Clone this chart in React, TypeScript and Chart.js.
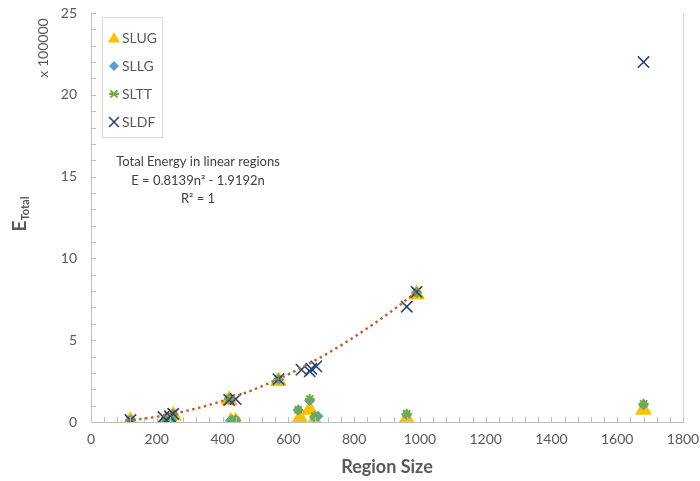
import React, { useEffect, useRef } from "react";
import { Chart, registerables } from "chart.js";

Chart.register(...registerables);

// Values in units of 100000
const SLUG: [number, number][] = [
  [120, 0.08], [225, 0.02], [245, 0.02], [250, 0.4], [420, 1.35], [425, 0.02], [440, 0.02],
  [570, 2.5], [635, 0.25], [665, 0.75], [680, 0.1], [960, 0.2], [990, 7.8], [1680, 0.75],
];
const SLLG: [number, number][] = [
  [120, 0.12], [225, 0.1], [245, 0.12], [250, 0.45], [420, 1.42], [425, 0.1], [440, 0.12],
  [570, 2.6], [630, 0.73], [665, 1.3], [680, 0.3], [690, 0.35], [960, 0.45], [990, 7.9], [1680, 1.05],
];
const SLTT: [number, number][] = [
  [120, 0.12], [225, 0.1], [240, 0.15], [250, 0.5], [420, 1.42], [430, 0.12], [440, 0.1],
  [570, 2.62], [630, 0.75], [665, 1.4], [680, 0.35], [960, 0.5], [990, 7.95], [1680, 1.12],
];
const SLDF: [number, number][] = [
  [120, 0.12], [220, 0.3], [240, 0.35], [250, 0.5], [420, 1.35], [440, 1.4], [570, 2.62],
  [640, 3.2], [665, 3.1], [670, 3.25], [685, 3.4], [960, 7.05], [990, 7.95], [1680, 22.0],
];

// Trendline from the equation shown in the chart: E = a n^2 + b n (in raw units)
const TREND_A = 0.8139;
const TREND_B = -1.9192;
const TREND_FROM = 110;
const TREND_TO = 1000;
const SCALE = 100000;

const X_TICKS = [0, 200, 400, 600, 800, 1000, 1200, 1400, 1600, 1800];
const Y_TICKS = [0, 5, 10, 15, 20, 25];

const ANNOT_LINES = ["Total Energy in linear regions", "E = 0.8139n\u00b2 - 1.9192n", "R\u00b2 = 1"];

const FONT = "Lato, 'Open Sans', sans-serif";
const GRAY = "#595959";

const toPts = (a: [number, number][]) => a.map(([x, y]) => ({ x, y }));

export default function App() {
  const ref = useRef<HTMLCanvasElement | null>(null);

  useEffect(() => {
    document.body.style.margin = "0";
    const trend: { x: number; y: number }[] = [];
    for (let n = TREND_FROM; n <= TREND_TO; n += 10) {
      trend.push({ x: n, y: (TREND_A * n * n + TREND_B * n) / SCALE });
    }

    const series = [
      { label: "SLUG", data: SLUG, style: "triangle", color: "#FFC000", radius: 9, bw: 1, order: 4, lr: 7 },
      { label: "SLLG", data: SLLG, style: "rectRot", color: "#5B9BD5", radius: 5, bw: 1, order: 3, lr: 5 },
      { label: "SLTT", data: SLTT, style: "star", color: "#70AD47", radius: 5, bw: 2, order: 2, lr: 5 },
      { label: "SLDF", data: SLDF, style: "crossRot", color: "#264478", radius: 8, bw: 1.6, order: 1, lr: 7 },
    ];

    function drawPoint(ctx: CanvasRenderingContext2D, style: string, r: number, x: number, y: number) {
      ctx.beginPath();
      if (style === "triangle") {
        ctx.moveTo(x, y - r);
        ctx.lineTo(x - r * 0.866, y + r * 0.5);
        ctx.lineTo(x + r * 0.866, y + r * 0.5);
        ctx.closePath();
        ctx.fill();
      } else if (style === "rectRot") {
        ctx.moveTo(x, y - r);
        ctx.lineTo(x + r, y);
        ctx.lineTo(x, y + r);
        ctx.lineTo(x - r, y);
        ctx.closePath();
        ctx.fill();
      } else if (style === "star") {
        const d = r * 0.707;
        ctx.moveTo(x - d, y - d); ctx.lineTo(x + d, y + d);
        ctx.moveTo(x + d, y - d); ctx.lineTo(x - d, y + d);
        ctx.moveTo(x - r, y); ctx.lineTo(x + r, y);
        ctx.stroke();
      } else {
        const d = r * 0.707;
        ctx.moveTo(x - d, y - d); ctx.lineTo(x + d, y + d);
        ctx.moveTo(x + d, y - d); ctx.lineTo(x - d, y + d);
        ctx.stroke();
      }
    }

    const decor = {
      id: "decor",
      afterDraw(chart: any) {
        const ctx = chart.ctx;
        const xs = chart.scales.x;
        const ys = chart.scales.y;
        const ca = chart.chartArea;
        ctx.save();
        // right border
        ctx.strokeStyle = "#D9D9D9";
        ctx.lineWidth = 1;
        ctx.beginPath();
        ctx.moveTo(ca.right + 0.5, ca.top);
        ctx.lineTo(ca.right + 0.5, ca.bottom);
        ctx.stroke();
        // inward tick marks
        ctx.strokeStyle = "#BFBFBF";
        ctx.beginPath();
        for (let v = 0; v <= 1800; v += 40) {
          const px = Math.round(xs.getPixelForValue(v)) + 0.5;
          ctx.moveTo(px, ca.bottom);
          ctx.lineTo(px, ca.bottom - 5);
        }
        for (let v = 0; v <= 25; v += 1) {
          const py = Math.round(ys.getPixelForValue(v)) + 0.5;
          ctx.moveTo(ca.left, py);
          ctx.lineTo(ca.left + 5, py);
        }
        ctx.stroke();

        // axis titles
        ctx.fillStyle = GRAY;
        ctx.textAlign = "center";
        ctx.textBaseline = "middle";
        ctx.font = `bold 18px ${FONT}`;
        ctx.fillText("Region Size", (ca.left + ca.right) / 2, 467);

        ctx.save();
        ctx.translate(20, 214);
        ctx.rotate(-Math.PI / 2);
        ctx.textAlign = "left";
        ctx.font = `bold 11px ${FONT}`;
        const tW = ctx.measureText("Total").width;
        ctx.font = `bold 19px ${FONT}`;
        const eW = ctx.measureText("E").width;
        const startX = -(eW + tW) / 2;
        ctx.fillText("E", startX, 0);
        ctx.font = `bold 11px ${FONT}`;
        ctx.fillText("Total", startX + eW, 5);
        ctx.restore();

        ctx.save();
        ctx.translate(43, 48);
        ctx.rotate(-Math.PI / 2);
        ctx.font = `14px ${FONT}`;
        ctx.textAlign = "center";
        ctx.fillText("x 100000", 0, 0);
        ctx.restore();

        // annotation
        ctx.fillStyle = "#404040";
        ctx.font = `13px ${FONT}`;
        ctx.textAlign = "center";
        const ay = [162, 181, 199];
        ANNOT_LINES.forEach((t, i) => ctx.fillText(t, 198, ay[i]));

        // legend
        ctx.fillStyle = "#FFFFFF";
        ctx.fillRect(102, 17, 60, 120);
        ctx.strokeStyle = "#D9D9D9";
        ctx.strokeRect(102.5, 17.5, 60, 120);
        const ly = [38, 66, 94, 122];
        series.forEach((s, i) => {
          ctx.save();
          ctx.fillStyle = s.color;
          ctx.strokeStyle = s.color;
          ctx.lineWidth = s.bw;
          drawPoint(ctx, s.style, s.lr, 114, s.style === "triangle" ? ly[i] + 1 : ly[i]);
          ctx.restore();
          ctx.fillStyle = GRAY;
          ctx.font = `14px ${FONT}`;
          ctx.textAlign = "left";
          ctx.fillText(s.label, 122, ly[i]);
        });
        ctx.restore();
      },
    };

    const zeroPad = (s: any) => {
      s.paddingTop = 0;
      s.paddingBottom = 0;
      s.paddingLeft = 0;
      s.paddingRight = 0;
    };

    const chart = new Chart(ref.current as HTMLCanvasElement, {
      type: "scatter",
      data: {
        datasets: [
          {
            label: "trend",
            data: trend,
            showLine: true,
            pointRadius: 0,
            borderColor: "#C0622B",
            borderWidth: 2.5,
            borderDash: [2.5, 3.5],
            order: 0,
          } as any,
          ...series.map((s) => ({
            label: s.label,
            data: toPts(s.data),
            pointStyle: s.style,
            pointRadius: s.radius,
            pointHoverRadius: s.radius,
            backgroundColor: s.color,
            borderColor: s.color,
            borderWidth: s.bw,
            order: s.order,
          })),
        ],
      },
      options: {
        animation: false,
        responsive: false,
        maintainAspectRatio: false,
        events: [],
        layout: { padding: { top: 13, right: 17, left: 0, bottom: 0 } },
        plugins: { legend: { display: false }, tooltip: { enabled: false } },
        scales: {
          x: {
            type: "linear",
            min: 0,
            max: 1800,
            afterBuildTicks: (s: any) => { s.ticks = X_TICKS.map((v) => ({ value: v })); },
            afterFit: (s: any) => { s.height = 59; zeroPad(s); },
            grid: { display: false, drawTicks: false },
            border: { display: true, color: "#BFBFBF", width: 1 },
            ticks: {
              color: GRAY,
              font: { family: FONT, size: 14 },
              padding: 9,
              maxRotation: 0,
              callback: (v: any) => String(v),
            },
          },
          y: {
            type: "linear",
            min: 0,
            max: 25,
            afterBuildTicks: (s: any) => { s.ticks = Y_TICKS.map((v) => ({ value: v })); },
            afterFit: (s: any) => { s.width = 91; zeroPad(s); },
            grid: { display: false, drawTicks: false },
            border: { display: true, color: "#BFBFBF", width: 1 },
            ticks: { color: GRAY, font: { family: FONT, size: 14 }, padding: 14, callback: (v: any) => String(v) },
          },
        },
      },
      plugins: [decor],
    });
    return () => chart.destroy();
  }, []);

  return (
    <div style={{ position: "absolute", left: 0, top: 0, width: 700, height: 481, background: "#fff" }}>
      <canvas ref={ref} width={700} height={481} style={{ width: 700, height: 481 }} />
    </div>
  );
}
